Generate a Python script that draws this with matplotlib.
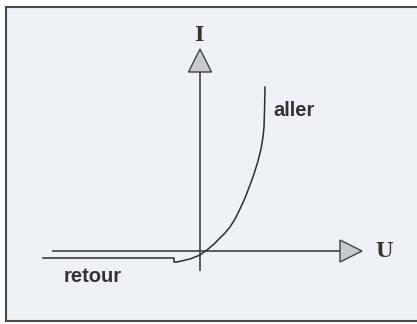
import numpy as np
import matplotlib.pyplot as plt
from matplotlib.patches import Polygon, Rectangle

# diode characteristic, units = pixels from the axis origin
u_curve = [65, 64.5, 64, 63, 61, 58, 54, 50, 45, 40, 35, 30, 25, 20, 14, 7, 0,
           -10, -23, -26, -26, -157]
i_curve = [164, 140, 124, 114, 102, 90, 77, 66, 53, 42, 32, 24, 18, 13, 7, 1, -4,
           -8, -11, -11, -7, -7]

axis_u = [-148, 140]
axis_i = [-20, 179]

line_col = '#3b4448'
bg_col = '#eef1f5'

fig = plt.figure(figsize=(4.17, 3.24), dpi=100)
fig.patch.set_facecolor('white')
ax = fig.add_axes([0, 0, 1, 1])
ax.set_xlim(-200, 217)
ax.set_ylim(-73, 251)
ax.axis('off')

# frame
ax.add_patch(Rectangle((-194.5, -70), 610, 314.5, facecolor=bg_col,
                       edgecolor='#4a4a4a', lw=1.5, zorder=0))

# axes
ax.plot(axis_u, [0, 0], color=line_col, lw=1.2, solid_capstyle='butt')
ax.plot([0, 0], axis_i, color=line_col, lw=1.2, solid_capstyle='butt')

# arrow heads
ax.add_patch(Polygon([[-11.5, 179], [11.5, 179], [0, 202]], closed=True,
                     facecolor='#c9cacb', edgecolor=line_col, lw=1.0))
ax.add_patch(Polygon([[140, 11], [140, -11], [162, 0]], closed=True,
                     facecolor='#c9cacb', edgecolor=line_col, lw=1.0))

# curve
ax.plot(u_curve, i_curve, color='#2a2f33', lw=1.1)

ax.text(0, 216, 'I', ha='center', va='center', fontsize=14.5,
        fontweight='bold', family='DejaVu Serif', color='#333333')
ax.text(184, 0, 'U', ha='center', va='center', fontsize=14.5,
        fontweight='bold', family='DejaVu Serif', color='#333333')
ax.text(73, 141, 'aller', ha='left', va='center', fontsize=14.5,
        fontweight='bold', family='Liberation Sans', color='#333333')
ax.text(-136, -26, 'retour', ha='left', va='center', fontsize=14.5,
        fontweight='bold', family='Liberation Sans', color='#333333')

fig.savefig('out.png', dpi=100)
